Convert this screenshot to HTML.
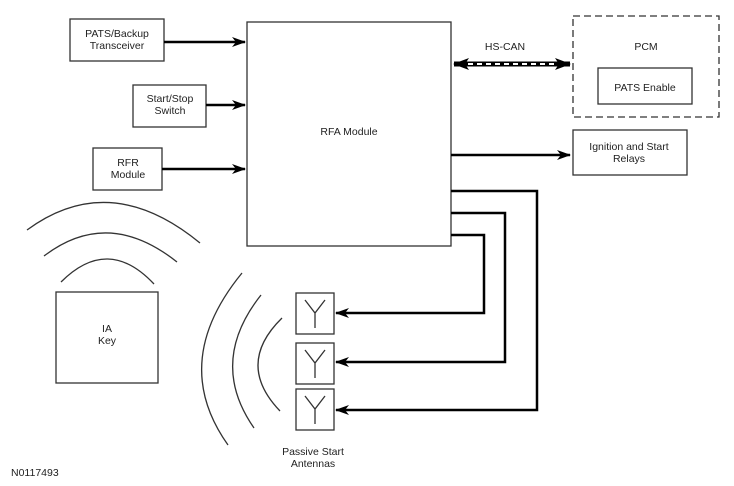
<!DOCTYPE html>
<html><head><style>
body{margin:0;background:#fff;}
svg{display:block;}
text{font-family:"Liberation Sans",sans-serif;font-size:10.5px;fill:#222;}
</style></head><body>
<svg width="734" height="486" viewBox="0 0 734 486">
<defs>
<marker id="a" markerWidth="14" markerHeight="10" refX="13" refY="5" orient="auto" markerUnits="userSpaceOnUse"><path d="M0,0 L14,5 L0,10 L4,5 Z" fill="#000"/></marker>
<marker id="b" markerWidth="16" markerHeight="12" refX="15" refY="6" orient="auto-start-reverse" markerUnits="userSpaceOnUse"><path d="M0,0 L16,6 L0,12 L4,6 Z" fill="#000"/></marker>
</defs>
<g fill="none" stroke="#333" stroke-width="1.3">
<rect x="70" y="19" width="94" height="42"/>
<rect x="133" y="85" width="73" height="42"/>
<rect x="93" y="148" width="69" height="42"/>
<rect x="247" y="22" width="204" height="224"/>
<rect x="56" y="292" width="102" height="91"/>
<rect x="598" y="68" width="94" height="36"/>
<rect x="573" y="130" width="114" height="45"/>
<rect x="573" y="16" width="146" height="101" stroke-dasharray="7,4"/>
<rect x="296" y="293" width="38" height="41"/>
<rect x="296" y="343" width="38" height="41"/>
<rect x="296" y="389" width="38" height="41"/>
<path d="M305,300 L315,313 L325,300 M315,313 V328"/>
<path d="M305,350 L315,363 L325,350 M315,363 V378"/>
<path d="M305,396 L315,409 L325,396 M315,409 V424"/>
<path d="M242,273 Q169,362 228,445"/>
<path d="M261,295 Q208,362 254,428"/>
<path d="M282,318 Q235,364 280,411"/>
<path d="M27,230 Q110,169 200,243"/>
<path d="M44,256 Q108,207 177,262"/>
<path d="M61,282 Q108,235 154,284"/>
</g>
<g fill="none" stroke="#000" stroke-width="2.5">
<path d="M164,42 H245" marker-end="url(#a)"/>
<path d="M206,105 H245" marker-end="url(#a)"/>
<path d="M162,169 H245" marker-end="url(#a)"/>
<path d="M451,155 H570" marker-end="url(#a)"/>
<path d="M451,191 H537 V410 H336" marker-end="url(#a)"/>
<path d="M451,213 H505 V362 H336" marker-end="url(#a)"/>
<path d="M451,235 H484 V313 H336" marker-end="url(#a)"/>
<path d="M454,64 H570" stroke-width="5" marker-start="url(#b)" marker-end="url(#b)"/>
</g>
<path d="M468,64 H556" stroke="#fff" stroke-width="2" stroke-dasharray="5,4" fill="none"/>
<g text-anchor="middle">
<text x="117" y="37">PATS/Backup</text><text x="117" y="49">Transceiver</text>
<text x="170" y="102">Start/Stop</text><text x="170" y="114">Switch</text>
<text x="128" y="166">RFR</text><text x="128" y="178">Module</text>
<text x="349" y="135">RFA Module</text>
<text x="107" y="332">IA</text><text x="107" y="344">Key</text>
<text x="505" y="50">HS-CAN</text>
<text x="646" y="50">PCM</text>
<text x="645" y="91">PATS Enable</text>
<text x="629" y="150">Ignition and Start</text><text x="629" y="162">Relays</text>
<text x="313" y="455">Passive Start</text><text x="313" y="467">Antennas</text>
</g>
<text x="11" y="476">N0117493</text>
</svg>
</body></html>
